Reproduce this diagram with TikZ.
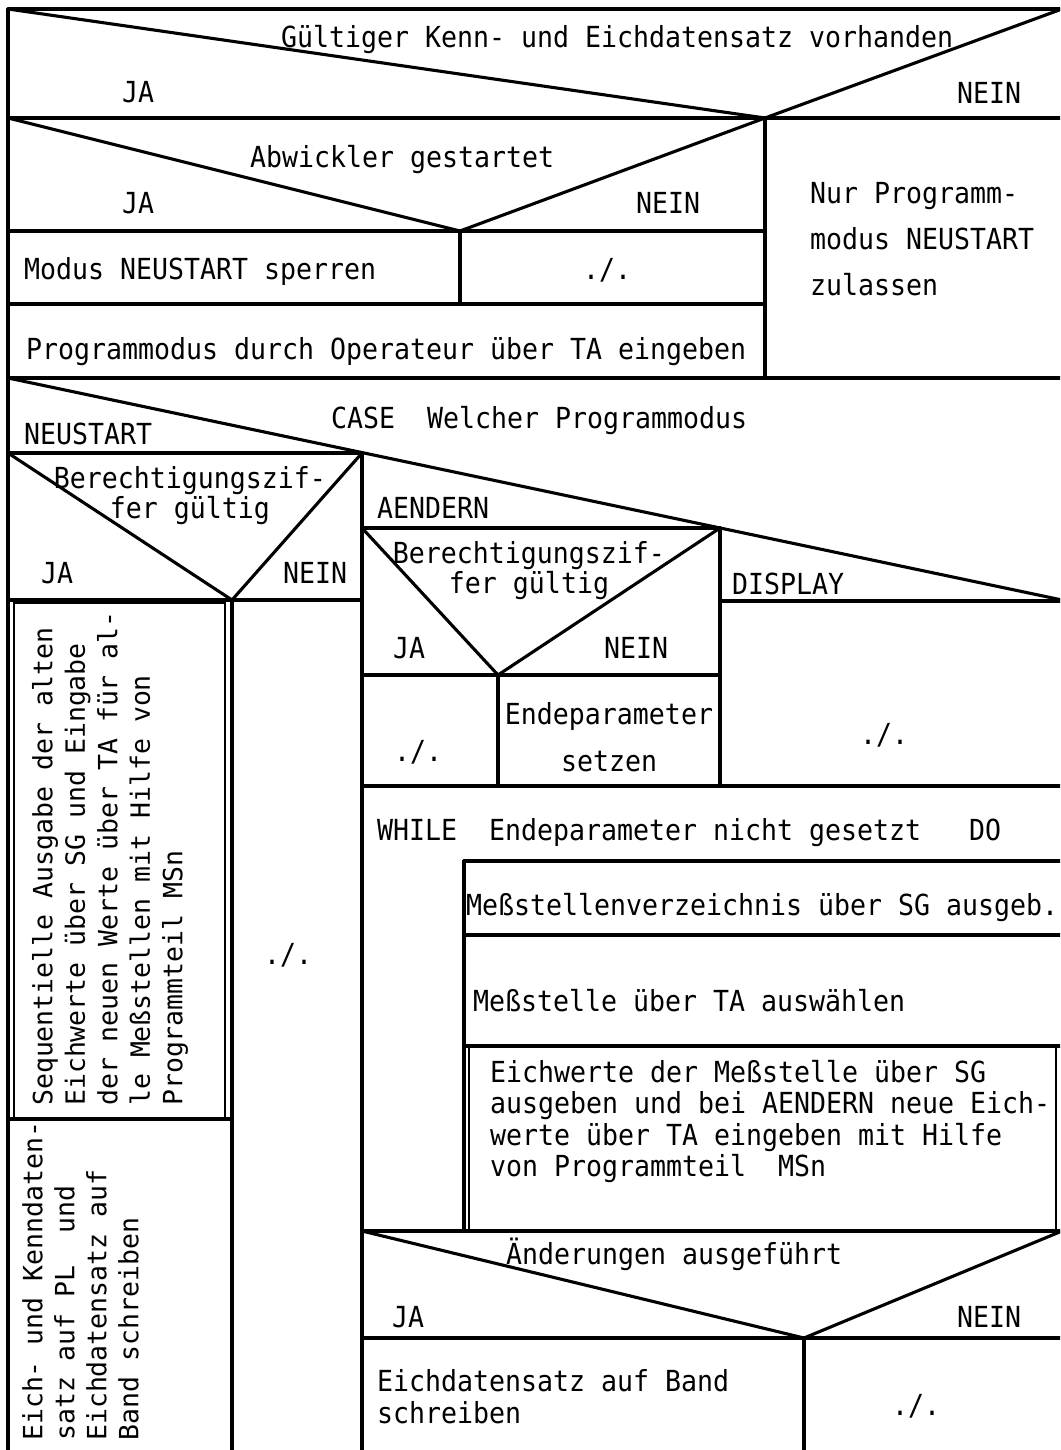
\documentclass[tikz,border=0pt]{standalone}
\usepackage{fontspec}
\newfontfamily\tw[FakeStretch=0.9165]{DejaVu Sans Mono}
\newfontfamily\twr{DejaVu Sans Mono}

\begin{document}
\begin{tikzpicture}[x=1pt,y=-1pt,
  ln/.style={line width=3.1pt, line join=round, line cap=round},
  dbl/.style={line width=2.2pt},
  txt/.style={inner sep=0pt, anchor=base west, font={\fontsize{29}{32}\selectfont\tw}},
  ctxt/.style={txt, anchor=base},
  para/.style={inner sep=0pt, align=left, anchor=north west, font={\fontsize{29}{#1}\selectfont\tw}},
  cpara/.style={inner sep=0pt, align=center, anchor=north, font={\fontsize{29}{#1}\selectfont\tw}},
  vpara/.style={inner sep=0pt, align=left, rotate=90, anchor=north west, font={\fontsize{26.5}{#1}\selectfont\twr}}]
\useasboundingbox (0,0) rectangle (1060,1450);
\clip (0,0) rectangle (1060,1450);
\fill[white] (0,0) rectangle (1060,1450);

% outer frame
\draw[ln] (8,1460) -- (8,9) -- (1070,9);

% IF Kenn- und Eichdatensatz vorhanden
\draw[ln] (8,9) -- (765,118) -- (1062,9);
\draw[ln] (8,118) -- (1070,118);
\draw[ln] (765,118) -- (765,378);

% IF Abwickler gestartet
\draw[ln] (8,118) -- (460,231) -- (765,118);
\draw[ln] (8,231) -- (765,231);
\draw[ln] (460,231) -- (460,304);
\draw[ln] (8,304) -- (765,304);
\draw[ln] (8,378) -- (1070,378);

% CASE Programmodus
\draw[ln] (8,378) -- (1062,600);
\draw[ln] (8,453) -- (362,453);
\draw[ln] (362,453) -- (362,1460);
\draw[ln] (362,528) -- (720,528);
\draw[ln] (720,528) -- (720,786);
\draw[ln] (720,601) -- (1070,601);

% NEUSTART branch
\draw[ln] (8,453) -- (232,600) -- (362,453);
\draw[ln] (8,600) -- (362,600);
\draw[ln] (232,600) -- (232,1460);
\draw[dbl] (14,603) rectangle (225,1119);
\draw[ln] (8,1119) -- (232,1119);

% AENDERN branch
\draw[ln] (362,528) -- (498,675) -- (720,528);
\draw[ln] (362,675) -- (720,675);
\draw[ln] (498,675) -- (498,786);
\draw[ln] (362,786) -- (1070,786);

% WHILE loop body
\draw[ln] (464,861) -- (1070,861);
\draw[ln] (464,861) -- (464,1231);
\draw[ln] (464,935) -- (1070,935);
\draw[ln] (464,1046) -- (1070,1046);
\draw[dbl] (469,1046) -- (469,1231);
\draw[dbl] (1056,1046) -- (1056,1231);
\draw[ln] (362,1231) -- (1070,1231);

% IF Aenderungen ausgefuehrt
\draw[ln] (362,1231) -- (804,1338) -- (1062,1231);
\draw[ln] (362,1338) -- (1070,1338);
\draw[ln] (804,1338) -- (804,1460);

% texts
\node[txt] (q1) at (281,48) {Gültiger Kenn- und Eichdatensatz vorhanden};
\node[txt] (q1ja) at (122,103) {JA};
\node[txt] (q1nein) at (957,104) {NEIN};
\node[txt] (q2) at (250,168) {Abwickler gestartet};
\node[txt] (q2ja) at (122,214) {JA};
\node[txt] (q2nein) at (636,214) {NEIN};
\node[para=46] (nur) at (810,182) {Nur Programm-\\modus NEUSTART\\zulassen};
\node[txt] (sperr) at (24,279) {Modus NEUSTART sperren};
\node[ctxt] (leer1) at (607,279) {./.};
\node[txt] (eing) at (26,359) {Programmodus durch Operateur über TA eingeben};

\node[txt] (case) at (331,428) {CASE~~Welcher Programmodus};
\node[txt] (neust) at (24,444) {NEUSTART};
\node[cpara=30] (ber1) at (190,466) {Berechtigungszif-\\fer gültig};
\node[txt] (b1ja) at (41,583) {JA};
\node[txt] (b1nein) at (283,583) {NEIN};
\node[vpara=32.5] (seq) at (32,1106) {Sequentielle Ausgabe der alten\\Eichwerte über SG und Eingabe\\der neuen Werte über TA für al-\\le Meßstellen mit Hilfe von\\Programmteil MSn};
\node[vpara=32] (band) at (22,1441) {Eich- und Kenndaten-\\satz auf PL~~und\\Eichdatensatz auf\\Band schreiben};
\node[ctxt] (leer2) at (288,964) {./.};

\node[txt] (aend) at (377,518) {AENDERN};
\node[cpara=30] (ber2) at (529,541) {Berechtigungszif-\\fer gültig};
\node[txt] (b2ja) at (393,658) {JA};
\node[txt] (b2nein) at (604,658) {NEIN};
\node[ctxt] (leer3) at (418,761) {./.};
\node[cpara=47] (ende) at (609,702) {Endeparameter\\setzen};
\node[txt] (disp) at (732,594) {DISPLAY};
\node[ctxt] (leer4) at (884,744) {./.};

\node[txt] (while) at (377,840) {WHILE~~Endeparameter nicht gesetzt~~~DO};
\node[txt] (verz) at (466,915) {Meßstellenverzeichnis über SG ausgeb.};
\node[txt] (wahl) at (473,1011) {Meßstelle über TA auswählen};
\node[para=31.5] (eichw) at (490,1060) {Eichwerte der Meßstelle über SG\\ausgeben und bei AENDERN neue Eich-\\werte über TA eingeben mit Hilfe\\von Programmteil~~MSn};
\node[txt] (aender) at (506,1264) {Änderungen ausgeführt};
\node[txt] (a3ja) at (392,1327) {JA};
\node[txt] (a3nein) at (957,1327) {NEIN};
\node[para=32] (schr) at (377,1369) {Eichdatensatz auf Band\\schreiben};
\node[ctxt] (leer5) at (916,1415) {./.};
\end{tikzpicture}
\end{document}
